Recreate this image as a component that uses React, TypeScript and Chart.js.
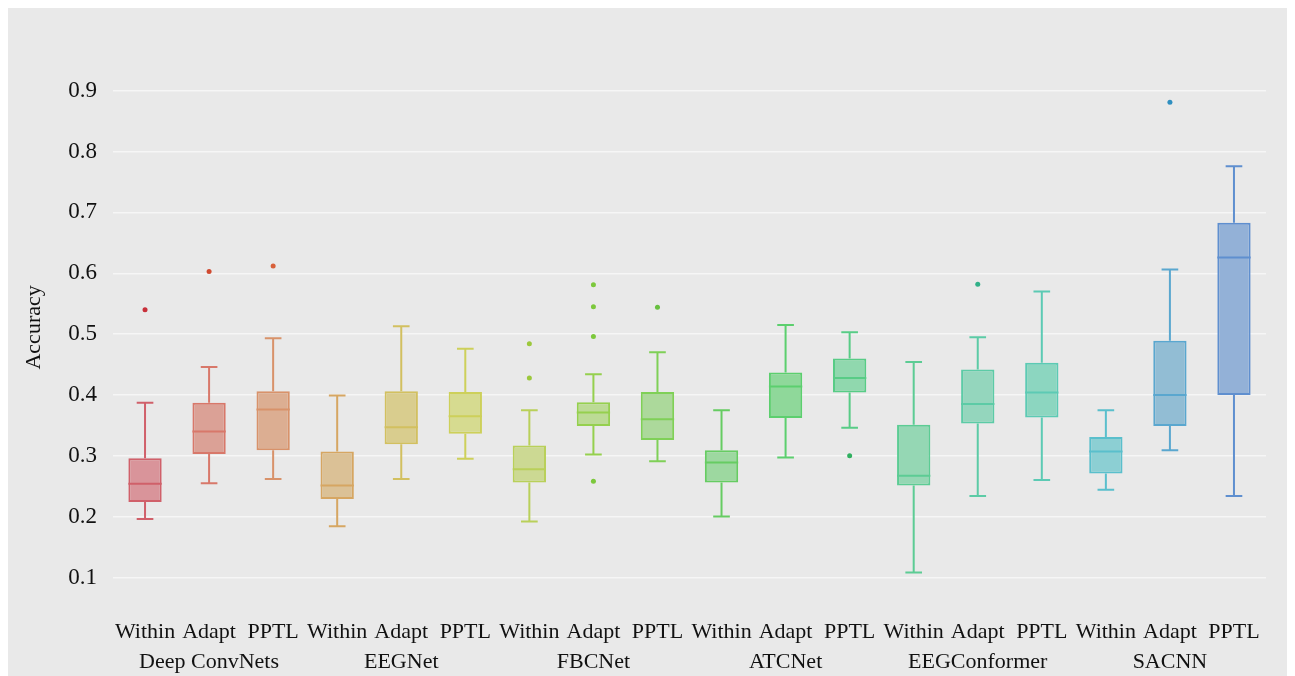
import React, { useEffect, useRef } from "react";
import { Chart, registerables } from "chart.js";

Chart.register(...registerables);

const models = ["Deep ConvNets", "EEGNet", "FBCNet", "ATCNet", "EEGConformer", "SACNN"];
const methods = ["Within", "Adapt", "PPTL"];
const categories = models.flatMap((m) => methods.map((s) => `${m}|${s}`));

const whiskerLow = [0.196, 0.255, 0.262, 0.184, 0.262, 0.295, 0.192, 0.302, 0.291, 0.2, 0.297, 0.346, 0.108, 0.234, 0.26, 0.244, 0.309, 0.234];
const q1 = [0.224, 0.303, 0.309, 0.229, 0.319, 0.336, 0.256, 0.349, 0.326, 0.256, 0.362, 0.404, 0.251, 0.353, 0.363, 0.271, 0.349, 0.4];
const median = [0.254, 0.34, 0.376, 0.251, 0.347, 0.365, 0.278, 0.371, 0.36, 0.289, 0.414, 0.428, 0.267, 0.385, 0.404, 0.307, 0.4, 0.626];
const q3 = [0.296, 0.387, 0.406, 0.307, 0.406, 0.405, 0.317, 0.388, 0.405, 0.309, 0.437, 0.46, 0.351, 0.442, 0.453, 0.331, 0.489, 0.683];
const whiskerHigh = [0.387, 0.446, 0.493, 0.399, 0.513, 0.476, 0.375, 0.434, 0.47, 0.375, 0.515, 0.503, 0.454, 0.495, 0.57, 0.375, 0.606, 0.776];

const outlierCategory = [0, 1, 2, 6, 6, 7, 7, 7, 7, 8, 11, 13, 16];
const outlierValue = [0.54, 0.603, 0.612, 0.484, 0.428, 0.581, 0.545, 0.496, 0.258, 0.544, 0.3, 0.582, 0.881];

const yTicks = [0.1, 0.2, 0.3, 0.4, 0.5, 0.6, 0.7, 0.8, 0.9];

const strokeColors = [
  "#d0606a", "#d8786a", "#d8926a", "#d6a662", "#d2c060", "#cdd05a",
  "#b9d05a", "#95d04e", "#7fd057", "#66cc62", "#5ccf6e", "#58cc86",
  "#5ccc94", "#5ccba6", "#5ccab4", "#5abfcc", "#5aa7cf", "#5f8fcf",
];
const fillColors = [
  "#d9949a", "#dba196", "#dcae92", "#dbc196", "#d9cd8e", "#d6db90",
  "#ccd993", "#bcdb95", "#acd99b", "#9dd8a0", "#8fd89a", "#90d8ae",
  "#95d7b4", "#94d6bd", "#8cd6c0", "#8ccfd3", "#92bdd4", "#93b1d7",
];
const outlierColors = [
  "#c8303a", "#d04a30", "#d8603a", "#9cc83c", "#9cc83c", "#7cc83c", "#7cc83c",
  "#7cc83c", "#7cc83c", "#68c040", "#30b060", "#30b088", "#2f8fc0",
];

const serif = "'Liberation Serif', 'Times New Roman', serif";

const boxPlugin = {
  id: "boxWhiskers",
  afterDatasetsDraw(chart: any) {
    const meta = chart.getDatasetMeta(0);
    const y = chart.scales.y;
    const ctx = chart.ctx;
    meta.data.forEach((bar: any, i: number) => {
      const x = bar.x;
      const w = bar.width;
      const yHi = y.getPixelForValue(whiskerHigh[i]);
      const yQ3 = y.getPixelForValue(q3[i]);
      const yMed = y.getPixelForValue(median[i]);
      const yQ1 = y.getPixelForValue(q1[i]);
      const yLo = y.getPixelForValue(whiskerLow[i]);
      ctx.save();
      ctx.strokeStyle = strokeColors[i];
      ctx.lineWidth = 2;
      ctx.beginPath();
      ctx.moveTo(x, yQ3);
      ctx.lineTo(x, yHi);
      ctx.moveTo(x - w / 4, yHi);
      ctx.lineTo(x + w / 4, yHi);
      ctx.moveTo(x, yQ1);
      ctx.lineTo(x, yLo);
      ctx.moveTo(x - w / 4, yLo);
      ctx.lineTo(x + w / 4, yLo);
      ctx.moveTo(x - w / 2, yMed);
      ctx.lineTo(x + w / 2, yMed);
      ctx.stroke();
      ctx.restore();
    });
  },
};

export default function App() {
  const canvasRef = useRef<HTMLCanvasElement | null>(null);

  useEffect(() => {
    if (!canvasRef.current) return;
    const chart = new Chart(canvasRef.current, {
      type: "bar",
      data: {
        labels: categories,
        datasets: [
          {
            type: "bar",
            data: categories.map((_, i) => [q1[i], q3[i]]) as any,
            backgroundColor: fillColors,
            borderColor: strokeColors,
            borderWidth: 2,
            borderSkipped: false,
            barPercentage: 0.52,
            categoryPercentage: 1,
          },
          {
            type: "scatter",
            data: outlierCategory.map((c, k) => ({ x: categories[c], y: outlierValue[k] })) as any,
            pointBackgroundColor: outlierColors,
            pointBorderWidth: 0,
            pointRadius: 2.5,
          },
        ],
      },
      options: {
        animation: false,
        responsive: false,
        maintainAspectRatio: false,
        layout: { padding: { top: 19, right: 21, left: 0, bottom: 0 } },
        plugins: {
          legend: { display: false },
          tooltip: { enabled: false },
        },
        scales: {
          x: {
            type: "category",
            grid: { display: false, drawTicks: false },
            border: { display: false },
            afterFit: (scale: any) => {
              scale.height = 59;
            },
            ticks: {
              autoSkip: false,
              maxRotation: 0,
              padding: 0,
              color: "#111",
              font: { family: serif, size: 22, lineHeight: 1.364 },
              callback: (_v: any, idx: number) =>
                idx % 3 === 1 ? [methods[1], models[Math.floor(idx / 3)]] : methods[idx % 3],
            },
          },
          y: {
            type: "linear",
            min: 0.035,
            max: 0.987,
            afterBuildTicks: (axis: any) => {
              axis.ticks = yTicks.map((v) => ({ value: v }));
            },
            afterFit: (scale: any) => {
              scale.width = 105;
            },
            grid: { color: "#f6f6f6", lineWidth: 1.5, drawTicks: false },
            border: { display: false },
            ticks: {
              padding: 16,
              color: "#111",
              font: { family: serif, size: 23 },
              callback: (v: any) => Number(v).toFixed(1),
            },
            title: {
              display: true,
              text: "Accuracy",
              color: "#111",
              padding: { top: 13, bottom: 0 },
              font: { family: serif, size: 22 },
            },
          },
        },
      },
      plugins: [boxPlugin],
    });
    return () => chart.destroy();
  }, []);

  return (
    <div
      style={{
        position: "fixed",
        top: 8,
        left: 8,
        width: 1279,
        height: 668,
        background: "#e9e9e9",
      }}
    >
      <canvas ref={canvasRef} width={1279} height={668} style={{ display: "block" }} />
    </div>
  );
}
